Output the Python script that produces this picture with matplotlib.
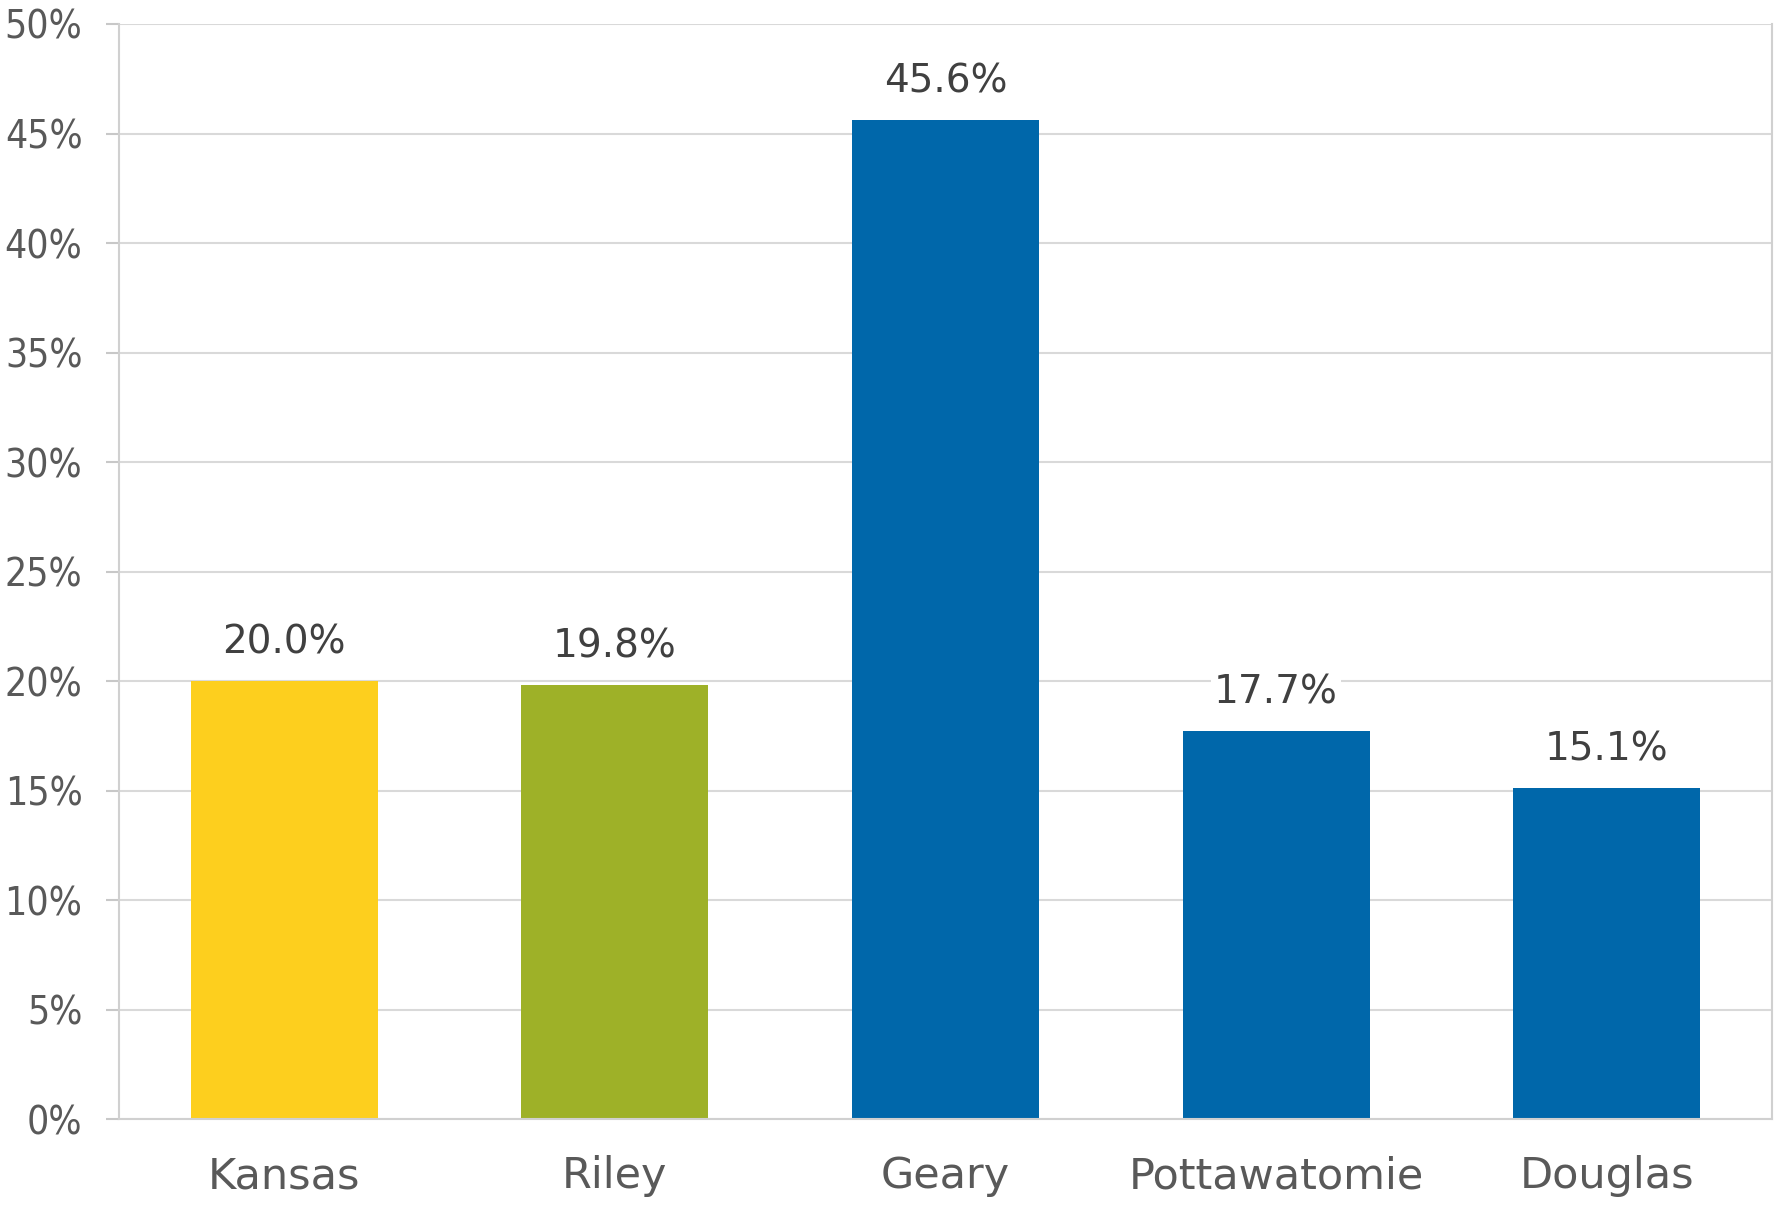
import matplotlib
matplotlib.use("Agg")
import matplotlib.pyplot as plt
from matplotlib.ticker import FuncFormatter, MultipleLocator

categories = ["Kansas", "Riley", "Geary", "Pottawatomie", "Douglas"]
values = [20.0, 19.8, 45.6, 17.7, 15.1]
colors = ["#FDCF1E", "#9EB128", "#0067AA", "#0067AA", "#0067AA"]

plt.rcParams['font.family'] = ['DejaVu Sans']

fig = plt.figure(figsize=(17.85, 12.06), dpi=100)
ax = fig.add_axes([0.0667, 0.0721, 0.926, 0.908])

x = range(len(categories))
bars = ax.bar(x, values, width=0.566, color=colors, zorder=2)

ax.set_xlim(-0.5, len(categories) - 0.5)
ax.set_ylim(0, 50)
ax.yaxis.set_major_locator(MultipleLocator(5))
ax.yaxis.set_major_formatter(FuncFormatter(lambda v, p: f"{v:.0f}%"))
ax.grid(axis='y', color='#D9D9D9', linewidth=1.5, zorder=0)
ax.set_axisbelow(True)

for s in ['left', 'bottom', 'right', 'top']:
    ax.spines[s].set_color('#D0D0D0')
    ax.spines[s].set_linewidth(1.5)
ax.spines['top'].set_visible(False)

ax.tick_params(axis='y', length=9.4, width=1.5, color='#C8C8C8', labelsize=28,
               labelcolor='#595959', pad=17)
ax.tick_params(axis='x', length=0, labelsize=31, labelcolor='#595959', pad=26)
ax.set_xticks(list(x))
ax.set_xticklabels(categories)
for lab in ax.get_yticklabels():
    lab.set_fontstretch('condensed')
    lab.set_family(['DejaVu Sans Condensed', 'Liberation Sans Narrow', 'DejaVu Sans'])

for xi, v in zip(x, values):
    ax.annotate(f"{v:.1f}%", xy=(xi, v), xytext=(0, 14), textcoords='offset points',
                ha='center', va='bottom', fontsize=28, color='#404040',
                bbox=dict(facecolor='white', edgecolor='none', pad=2), zorder=3)

fig.savefig("out.png", dpi=100)
